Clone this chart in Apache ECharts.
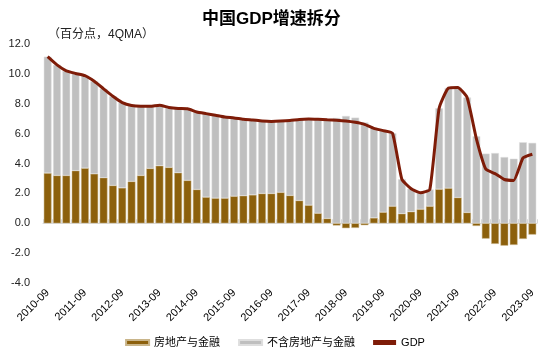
<!DOCTYPE html>
<html><head><meta charset="utf-8">
<script src="https://cdn.jsdelivr.net/npm/echarts@6/dist/echarts.min.js"></script>
<style>html,body{margin:0;padding:0;background:#fff}#c{width:550px;height:359px}</style>
</head><body><div id="c"></div>
<script>
const quarters = ["2010-09","2010-12","2011-03","2011-06","2011-09","2011-12","2012-03","2012-06","2012-09","2012-12",
"2013-03","2013-06","2013-09","2013-12","2014-03","2014-06","2014-09","2014-12","2015-03","2015-06",
"2015-09","2015-12","2016-03","2016-06","2016-09","2016-12","2017-03","2017-06","2017-09","2017-12",
"2018-03","2018-06","2018-09","2018-12","2019-03","2019-06","2019-09","2019-12","2020-03","2020-06",
"2020-09","2020-12","2021-03","2021-06","2021-09","2021-12","2022-03","2022-06","2022-09","2022-12",
"2023-03","2023-06","2023-09"];
const realEstateFinance = [3.36,3.2,3.2,3.52,3.69,3.31,3.05,2.53,2.37,2.8,
3.2,3.67,3.85,3.74,3.38,2.87,2.26,1.75,1.68,1.68,
1.81,1.84,1.9,1.99,1.99,2.07,1.86,1.52,1.21,0.67,
0.32,-0.15,-0.33,-0.31,-0.13,0.36,0.74,1.14,0.64,0.77,
0.94,1.14,2.28,2.35,1.72,0.72,-0.18,-1.03,-1.38,-1.5,
-1.45,-1.05,-0.76];
const excludingREF = [7.79,7.4,7.0,6.51,6.19,6.19,5.95,5.97,5.71,5.08,
4.63,4.16,4.05,4.01,4.3,4.79,5.19,5.59,5.55,5.43,
5.24,5.12,5.01,4.86,4.83,4.77,5.02,5.43,5.77,6.29,
6.61,7.05,7.18,7.07,6.75,5.99,5.46,4.88,2.31,1.54,
1.1,1.12,5.42,6.7,7.36,7.7,5.83,4.66,4.7,4.43,
4.32,5.42,5.38];
const gdp = [11.15,10.6,10.2,10.03,9.88,9.5,9.0,8.5,8.08,7.88,
7.83,7.83,7.9,7.75,7.68,7.66,7.45,7.34,7.23,7.11,
7.05,6.96,6.91,6.85,6.82,6.84,6.88,6.95,6.98,6.96,
6.93,6.9,6.85,6.76,6.62,6.35,6.2,6.02,2.95,2.31,
2.04,2.26,7.7,9.05,9.08,8.42,5.65,3.63,3.32,2.93,
2.87,4.37,4.62];
const yTicks = [-4,-2,0,2,4,6,8,10,12];

const FONT = '"Liberation Sans", Arial, "Noto Sans CJK SC", sans-serif';
const chart = echarts.init(document.getElementById('c'), null, {renderer:'canvas'});
chart.setOption({
  animation: false,
  textStyle: {fontFamily: FONT},
  title: [
    {text: '中国GDP增速拆分', left: 197, top: 6,
     textStyle: {fontSize: 17, fontWeight: 'bold', color: '#000', fontFamily: FONT}},
    {text: '（百分点，4QMA）', left: 43, top: 24,
     textStyle: {fontSize: 12, fontWeight: 'normal', color: '#222', fontFamily: FONT}}
  ],
  legend: {
    bottom: 6, left: 'center', itemWidth: 23, itemHeight: 5, itemGap: 18,
    textStyle: {fontSize: 11, color: '#000', fontFamily: FONT},
    data: [{name:'房地产与金融', icon:'rect'}, {name:'不含房地产与金融', icon:'rect'}, {name:'GDP', icon:'rect'}]
  },
  grid: {left: 43, right: 13, top: 44, bottom: 76},
  xAxis: [
    {type: 'category', data: quarters, position: 'bottom',
     axisLine: {show: false, onZero: false}, axisTick: {show: false},
     axisLabel: {interval: 3, rotate: 45, fontSize: 11, color: '#000', margin: 8, fontFamily: FONT}},
    {type: 'category', data: quarters, position: 'top',
     axisLine: {show: true, onZero: true, lineStyle: {color: '#d9d9d9', width: 1}},
     axisTick: {show: true, inside: true, length: -4, interval: 0, lineStyle: {color: '#d9d9d9'}},
     axisLabel: {show: false}}
  ],
  yAxis: {
    type: 'value', min: yTicks[0], max: yTicks[yTicks.length-1], interval: 2,
    axisLine: {show: false}, axisTick: {show: false}, splitLine: {show: false},
    axisLabel: {fontSize: 11, color: '#222', margin: 13, formatter: v => v.toFixed(1), fontFamily: FONT}
  },
  series: [
    {name: '房地产与金融', type: 'bar', stack: 'total', data: realEstateFinance,
     barCategoryGap: '17%', itemStyle: {color: '#8C600C', borderColor: '#c9b58a', borderWidth: 0.5}},
    {name: '不含房地产与金融', type: 'bar', stack: 'total', data: excludingREF,
     itemStyle: {color: '#BFBFBF', borderColor: '#dedede', borderWidth: 0.5}},
    {name: 'GDP', type: 'line', data: gdp, symbol: 'none', smooth: 0.15,
     lineStyle: {color: '#7E1C08', width: 3}, itemStyle: {color: '#7E1C08'}, z: 5}
  ]
});
</script></body></html>
